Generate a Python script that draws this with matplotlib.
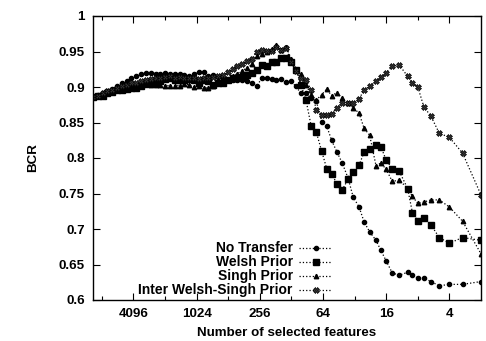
import numpy as np
import matplotlib
matplotlib.use("Agg")
import matplotlib.pyplot as plt
from matplotlib.ticker import FixedLocator, NullFormatter

plt.rcParams['font.family'] = ['Liberation Sans', 'DejaVu Sans']
plt.rcParams['font.weight'] = 'bold'
plt.rcParams['font.size'] = 9.6

# number of selected features (x axis, runs from many to few)
n_features = [9939, 8945, 8050, 7245, 6520, 5868, 5281, 4752, 4276, 3848,
              3463, 3116, 2804, 2523, 2270, 2043, 1838, 1654, 1488, 1339,
              1205, 1084, 975, 877, 789, 710, 639, 575, 517, 465,
              418, 376, 338, 304, 273, 245, 220, 198, 178, 160,
              144, 129, 116, 104, 93, 83, 74, 66, 59, 53,
              47, 42, 37, 33, 29, 26, 23, 20, 18, 16,
              14, 12, 10, 9, 8, 7, 6, 5, 4, 3, 2]

no_transfer = [0.886, 0.889, 0.892, 0.894, 0.897, 0.901, 0.905, 0.909, 0.912, 0.915,
               0.918, 0.920, 0.920, 0.919, 0.919, 0.920, 0.919, 0.919, 0.918, 0.917,
               0.915, 0.918, 0.921, 0.921, 0.916, 0.917, 0.914, 0.912, 0.910, 0.910,
               0.910, 0.910, 0.909, 0.905, 0.901, 0.913, 0.912, 0.911, 0.910, 0.911,
               0.907, 0.908, 0.901, 0.891, 0.891, 0.884, 0.880, 0.851, 0.845, 0.825,
               0.808, 0.793, 0.772, 0.745, 0.731, 0.710, 0.696, 0.684, 0.670, 0.655,
               0.638, 0.635, 0.639, 0.635, 0.631, 0.631, 0.626, 0.620, 0.622, 0.622, 0.626]

welsh = [0.886, 0.887, 0.888, 0.891, 0.893, 0.896, 0.896, 0.897, 0.898, 0.899,
         0.902, 0.904, 0.905, 0.905, 0.908, 0.911, 0.912, 0.910, 0.910, 0.910,
         0.911, 0.910, 0.906, 0.910, 0.909, 0.903, 0.905, 0.906, 0.910, 0.912,
         0.912, 0.914, 0.917, 0.920, 0.924, 0.931, 0.929, 0.935, 0.935, 0.941,
         0.941, 0.935, 0.924, 0.903, 0.882, 0.845, 0.836, 0.810, 0.785, 0.778,
         0.763, 0.755, 0.770, 0.780, 0.790, 0.808, 0.813, 0.819, 0.816, 0.797,
         0.785, 0.781, 0.757, 0.723, 0.711, 0.715, 0.706, 0.688, 0.680, 0.688, 0.684]

singh = [0.886, 0.888, 0.890, 0.893, 0.895, 0.897, 0.899, 0.900, 0.901, 0.902,
         0.903, 0.904, 0.903, 0.903, 0.903, 0.902, 0.902, 0.902, 0.902, 0.904,
         0.903, 0.900, 0.901, 0.898, 0.899, 0.901, 0.905, 0.906, 0.911, 0.915,
         0.919, 0.923, 0.927, 0.932, 0.944, 0.947, 0.950, 0.954, 0.959, 0.952,
         0.957, 0.940, 0.926, 0.919, 0.903, 0.889, 0.882, 0.889, 0.897, 0.888,
         0.892, 0.884, 0.877, 0.871, 0.863, 0.842, 0.832, 0.789, 0.793, 0.784,
         0.767, 0.769, 0.757, 0.746, 0.736, 0.738, 0.741, 0.741, 0.731, 0.711, 0.665]

inter = [0.886, 0.888, 0.891, 0.894, 0.896, 0.898, 0.901, 0.903, 0.905, 0.906,
         0.908, 0.910, 0.911, 0.912, 0.913, 0.914, 0.915, 0.913, 0.914, 0.912,
         0.913, 0.912, 0.911, 0.913, 0.912, 0.914, 0.915, 0.917, 0.921, 0.926,
         0.929, 0.933, 0.937, 0.940, 0.950, 0.952, 0.951, 0.951, 0.957, 0.952,
         0.955, 0.935, 0.922, 0.912, 0.910, 0.896, 0.868, 0.861, 0.860, 0.862,
         0.871, 0.877, 0.878, 0.878, 0.883, 0.896, 0.901, 0.908, 0.914, 0.920,
         0.929, 0.931, 0.915, 0.906, 0.900, 0.872, 0.859, 0.835, 0.829, 0.807, 0.748]

labels = ['No Transfer', 'Welsh Prior', 'Singh Prior', 'Inter Welsh-Singh Prior']
xticks = [4096, 1024, 256, 64, 16, 4]
xminor = [8192, 2048, 512, 128, 32, 8]
yticks = [0.6, 0.65, 0.7, 0.75, 0.8, 0.85, 0.9, 0.95, 1.0]

fig = plt.figure(figsize=(4.86, 3.41), dpi=100)
ax = fig.add_axes([93 / 486, 1 - 300 / 341, 388 / 486, 284 / 341])

lk = dict(color='black', ls=':', lw=0.9)
ax.plot(n_features, no_transfer, marker='o', ms=3.0, label=labels[0], **lk)
ax.plot(n_features, welsh, marker='s', ms=4.8, label=labels[1], **lk)
ax.plot(n_features, singh, marker='^', ms=3.2, label=labels[2], **lk)
ax.plot(n_features, inter, marker='X', ms=4.3, mec='black', mfc='#333333',
        mew=0.5, label=labels[3], **lk)

ax.set_xscale('log', base=2)
ax.set_xlim(n_features[0], n_features[-1])
ax.set_ylim(0.6, 1.0)
ax.set_xticks(xticks)
ax.set_xticklabels([str(t) for t in xticks])
ax.xaxis.set_minor_locator(FixedLocator(xminor))
ax.xaxis.set_minor_formatter(NullFormatter())
ax.set_yticks(yticks)
ax.set_yticklabels(['0.6', '0.65', '0.7', '0.75', '0.8', '0.85', '0.9', '0.95', '1'])
ax.tick_params(which='both', direction='in', top=True, right=True, width=0.8)
ax.tick_params(which='major', length=5, pad=6)
ax.tick_params(which='minor', length=3)
for s in ax.spines.values():
    s.set_linewidth(1.0)

ax.set_xlabel('Number of selected features', fontweight='bold', labelpad=5)
ax.set_ylabel('BCR', fontweight='bold', labelpad=14)

ax.legend(loc='lower right', bbox_to_anchor=(0.642, -0.025), frameon=False,
          markerfirst=False, handlelength=2.4, handletextpad=0.45,
          labelspacing=0.0, borderpad=0.2, fontsize=10)

fig.savefig('out.png', dpi=100)
